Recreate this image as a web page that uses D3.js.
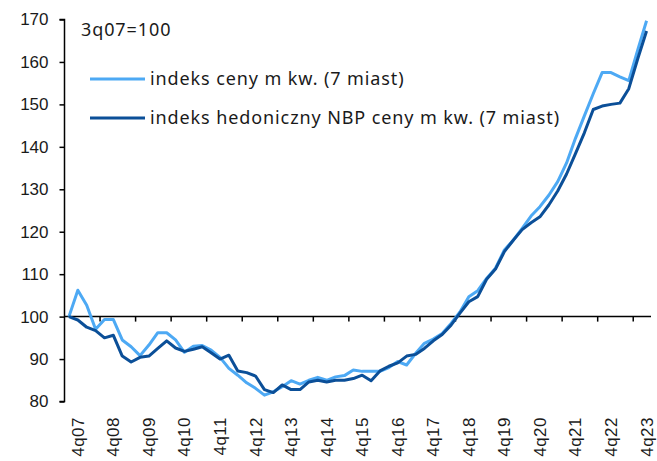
<!DOCTYPE html>
<html>
<head>
<meta charset="utf-8">
<script src="https://cdn.jsdelivr.net/npm/d3@7"></script>
<style>
  body { margin: 0; background: #fff; }
  svg { display: block; }
</style>
</head>
<body>
<div id="vis"></div>
<script>
// quarters 3q07 .. 4q23
const quarters = ["3q07", "4q07"];
for (let y = 8; y <= 23; y++) {
    for (let q = 1; q <= 4; q++) quarters.push(q + "q" + String(y).padStart(2, "0"));
}

// indeks ceny m kw. (7 miast)
const priceIndex = [
    100, 106.2, 102.7, 97.0, 99.3, 99.3, 94.5, 92.9, 90.8, 93.3,
    96.2, 96.2, 94.5, 91.6, 93.0, 93.2, 92.1, 90.4, 87.8, 86.2,
    84.4, 83.1, 81.5, 82.3, 83.5, 84.9, 84.1, 85.0, 85.7, 85.0,
    85.8, 86.1, 87.4, 87.1, 87.1, 87.1, 88.0, 89.4, 88.6, 91.3,
    93.7, 94.7, 96.0, 98.4, 101.1, 104.7, 106.1, 109.0, 111.4, 115.7,
    118.0, 120.8, 123.7, 125.9, 128.6, 131.8, 136.2, 142.0, 147.3, 152.5,
    157.5, 157.5, 156.5, 155.6, 162.8, 169.7
];

// indeks hedoniczny NBP ceny m kw. (7 miast)
const hedonicIndex = [
    100, 99.2, 97.5, 96.7, 95.0, 95.6, 90.7, 89.3, 90.4, 90.7,
    92.5, 94.3, 92.6, 91.8, 92.3, 92.9, 91.5, 90.0, 90.9, 87.2,
    86.8, 86.0, 82.8, 82.1, 83.9, 82.8, 82.8, 84.6, 85.0, 84.6,
    85.0, 85.0, 85.4, 86.2, 84.9, 87.2, 88.3, 89.1, 90.7, 91.1,
    92.5, 94.3, 95.8, 98.0, 100.8, 103.5, 104.7, 108.8, 111.2, 115.3,
    118.0, 120.5, 122.1, 123.5, 126.3, 129.6, 133.6, 138.4, 143.3, 148.8,
    149.6, 150.0, 150.3, 153.7, 160.7, 167.3
];

const yTicks = [80, 90, 100, 110, 120, 130, 140, 150, 160, 170];
const xTickLabels = ["4q07", "4q08", "4q09", "4q10", "4q11", "4q12", "4q13", "4q14", "4q15",
    "4q16", "4q17", "4q18", "4q19", "4q20", "4q21", "4q22", "4q23"];

const series = [
    { name: "indeks ceny m kw. (7 miast)", values: priceIndex, color: "#4da9f4" },
    { name: "indeks hedoniczny NBP ceny m kw. (7 miast)", values: hedonicIndex, color: "#0b4f98" }
];

const width = 657, height = 461;
const svg = d3.select("#vis").append("svg")
    .attr("width", width)
    .attr("height", height);

const x = d3.scaleBand()
    .domain(quarters)
    .range([64.5, 651])
    .padding(0);

const y = d3.scaleLinear()
    .domain([80, 170])
    .range([401.5, 19.5]);

const axisFont = "'Liberation Sans', Arial, sans-serif";
const textColor = "#1a1a1a";

// y axis
const yAxis = svg.append("g")
    .attr("transform", `translate(${x.range()[0]},0)`)
    .call(d3.axisLeft(y).tickValues(yTicks).tickSize(5).tickPadding(11).tickFormat(d3.format("d")));
yAxis.select(".domain").attr("stroke", "#000").attr("stroke-width", 1.5).attr("d", `M-5,${y(80)}H0V${y(170)}H-5`);
yAxis.selectAll(".tick line").attr("stroke", "#000").attr("stroke-width", 1.5);
yAxis.selectAll(".tick text")
    .attr("fill", textColor)
    .style("font-family", axisFont)
    .style("font-size", "17px");

// x axis line at 100
const y100 = y(100);
svg.append("line")
    .attr("x1", x.range()[0]).attr("x2", x.range()[1])
    .attr("y1", y100).attr("y2", y100)
    .attr("stroke", "#000").attr("stroke-width", 1.5);

// ticks every 4 quarters
const tickQuarters = quarters.filter((d, i) => i % 4 === 0 && i > 0);
svg.selectAll("line.xtick")
    .data(tickQuarters)
    .enter().append("line")
    .attr("class", "xtick")
    .attr("x1", d => x(d)).attr("x2", d => x(d))
    .attr("y1", y100).attr("y2", y100 + 5)
    .attr("stroke", "#000").attr("stroke-width", 1.5);

// x labels, rotated
svg.selectAll("text.xlabel")
    .data(xTickLabels)
    .enter().append("text")
    .attr("class", "xlabel")
    .attr("transform", d => `translate(${x(d) + x.bandwidth() / 2 + 6},417) rotate(-90)`)
    .attr("text-anchor", "end")
    .attr("fill", textColor)
    .style("font-family", axisFont)
    .style("font-size", "17px")
    .style("letter-spacing", "0.5px")
    .text(d => d);

// lines
const line = d3.line()
    .x((d, i) => x(quarters[i]) + x.bandwidth() / 2)
    .y(d => y(d));

svg.selectAll("path.series")
    .data(series)
    .enter().append("path")
    .attr("class", "series")
    .attr("d", d => line(d.values))
    .attr("fill", "none")
    .attr("stroke", d => d.color)
    .attr("stroke-width", 3)
    .attr("stroke-linejoin", "round");

// legend
const legendFont = "'Noto Sans', sans-serif";
svg.append("text")
    .attr("x", 81).attr("y", 36)
    .attr("fill", textColor)
    .style("font-family", legendFont)
    .style("font-size", "18px")
    .style("letter-spacing", "0.9px")
    .text("3q07=100");

const legend = svg.selectAll("g.legend")
    .data(series)
    .enter().append("g")
    .attr("class", "legend")
    .attr("transform", (d, i) => `translate(90,${79 + i * 39})`);

legend.append("line")
    .attr("x1", 0).attr("x2", 55)
    .attr("stroke", d => d.color)
    .attr("stroke-width", 3);

legend.append("text")
    .attr("x", 60).attr("y", 6)
    .attr("fill", textColor)
    .style("font-family", legendFont)
    .style("font-size", "18px")
    .style("letter-spacing", "0.9px")
    .text(d => d.name);
</script>
</body>
</html>
